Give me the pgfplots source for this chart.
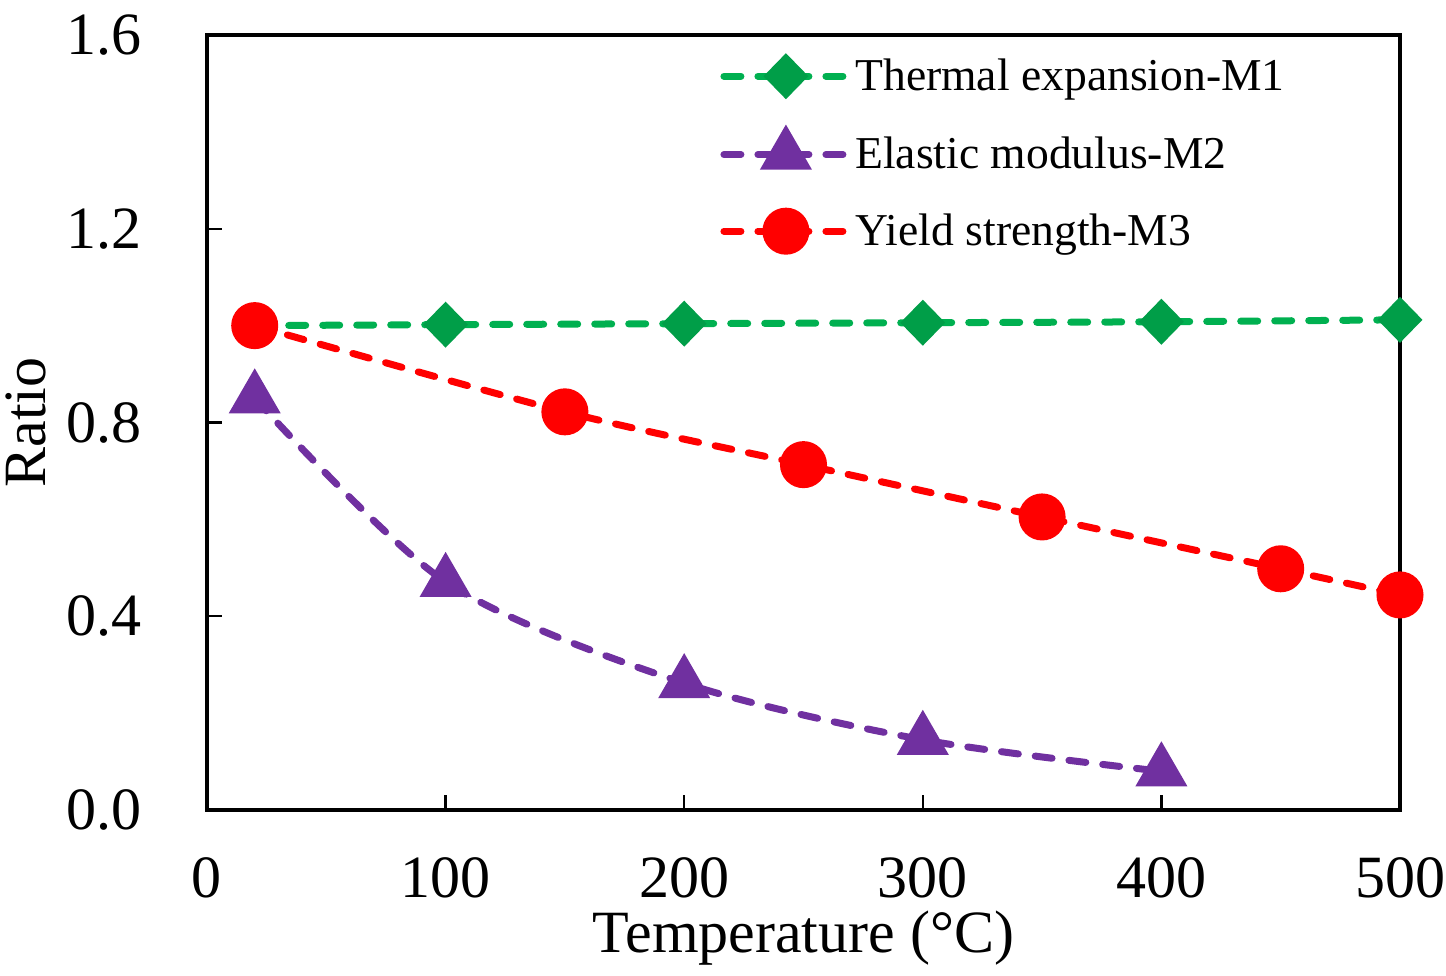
\documentclass[border=0pt]{standalone}
\usepackage{fontspec}
\setmainfont{Liberation Serif}
\usepackage{pgfplots}
\pgfplotsset{compat=1.18}
\definecolor{cgreen}{HTML}{00B050}
\definecolor{cpurple}{HTML}{7030A0}
\definecolor{cred}{HTML}{FF0000}
\begin{document}
\begin{tikzpicture}
\useasboundingbox (-103.5pt,-82.5pt) rectangle (619.5pt,405pt);
\begin{axis}[
  at={(0,0)}, anchor=south west,
  scale only axis, width=596.5pt, height=387.5pt,
  xmin=0, xmax=500, ymin=0, ymax=1.6,
  xtick={0,100,...,500}, ytick={0,0.4,...,1.6},
  /pgf/number format/assume math mode=true,
  yticklabel style={/pgf/number format/fixed,/pgf/number format/fixed zerofill,/pgf/number format/precision=1, font=\fontsize{30}{34}\selectfont, xshift=-29pt},
  xticklabel style={font=\fontsize{30}{34}\selectfont, yshift=-20.5pt},
  axis line style={line width=2pt},
  every tick/.style={black, line width=1.2pt},
  tick align=inside, major tick length=7.5pt,
  xtick pos=bottom, ytick pos=left,
  xlabel={Temperature (°C)}, ylabel={Ratio},
  xlabel style={font=\fontsize{30}{34}\selectfont, yshift=0.5pt},
  ylabel style={font=\fontsize{30}{34}\selectfont, yshift=3.7pt},
  legend style={draw=none, fill=none, at={(0.425,0.98)}, anchor=north west,
    font=\fontsize{22.8}{26}\selectfont, row sep=17pt,
    /tikz/every even column/.append style={column sep=4pt}},
  legend cell align=left,
  legend image code/.code={\draw[mark repeat=2,mark phase=2] plot coordinates {(0pt,0pt) (31pt,0pt) (62pt,0pt)};},
  every axis plot/.append style={line width=3.5pt, line cap=round, dash pattern=on 8.5pt off 8.5pt, smooth},
]
\addplot[color=cgreen, mark=diamond*, mark size=9pt, mark options={solid, xscale=1.3, fill=cgreen!90!black, draw=cgreen!90!black}]
 coordinates {(20,1.0) (100,1.002) (200,1.004) (300,1.006) (400,1.008) (500,1.012)};
\addlegendentry{Thermal expansion-M1}
\addplot[color=cpurple, mark=triangle*, mark size=11.5pt, mark options={solid, fill=cpurple}]
 coordinates {(20,0.85) (100,0.471) (200,0.262) (300,0.145) (400,0.08)};
\addlegendentry{Elastic modulus-M2}
\addplot[color=cred, mark=*, mark size=10pt, mark options={solid, fill=cred}]
 coordinates {(20,1.0) (150,0.822) (250,0.713) (350,0.605) (450,0.498) (500,0.444)};
\addlegendentry{Yield strength-M3}
\end{axis}
\end{tikzpicture}
\end{document}
